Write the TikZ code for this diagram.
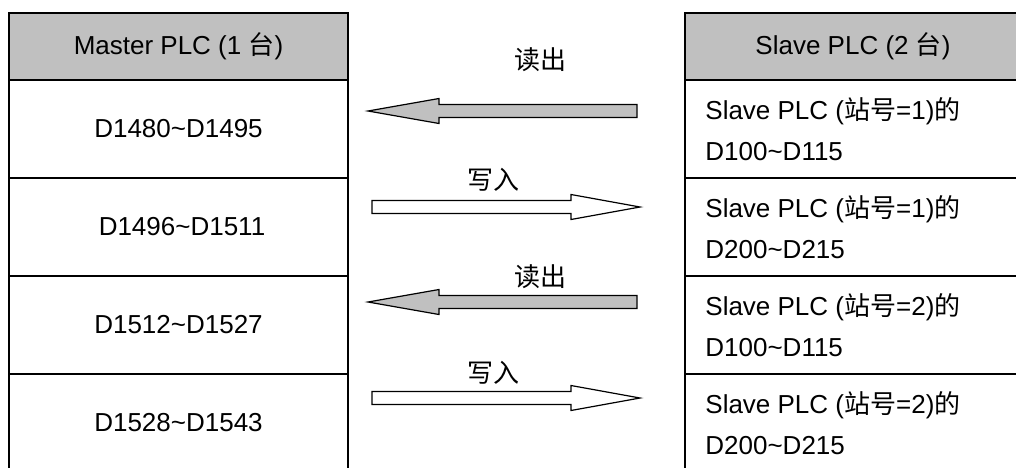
\documentclass[tikz,border=0pt]{standalone}
\usepackage{fontspec}
\setmainfont{Liberation Sans}
\newfontfamily\cjk{Noto Sans CJK SC}
\usetikzlibrary{positioning}
\definecolor{hdgray}{RGB}{192,192,192}
\newcommand\tild{\textasciitilde}

\begin{document}
\begin{tikzpicture}[x=0.5pt, y=-0.5pt, font=\fontsize{13}{15}\selectfont,
   grid/.style={line width=1pt},
   blk/.style={draw, line width=0.6pt, line join=miter},
   cell/.style={inner sep=0pt},
   slv/.style={inner sep=0pt, anchor=base west}]
\clip (0,0) rectangle (1016,467);
% header fills
\fill[hdgray] (9,13) rectangle (348,80);
\fill[hdgray] (685,13) rectangle (1021,80);
% table lines
\foreach \xa/\xb in {9/348, 685/1021} {
  \draw[grid] (\xa,490) -- (\xa,13) -- (\xb,13) -- (\xb,490);
  \foreach \y in {80,178,276,374} \draw[grid] (\xa,\y) -- (\xb,\y);
}
% master side
\node[cell] (mhd) at (178.5,46.5) {Master PLC (1 {\cjk 台})};
\node[cell] (m1) at (178.5,129) {D1480\tild D1495};
\node[cell] (m2) at (182,227) {D1496\tild D1511};
\node[cell] (m3) at (178.5,325) {D1512\tild D1527};
\node[cell] (m4) at (178.5,423) {D1528\tild D1543};
% slave side
\node[cell] (shd) at (853,46.5) {Slave PLC (2 {\cjk 台})};
\foreach \i/\t/\st/\rg in {1/80/1/D100\tild D115, 2/178/1/D200\tild D215,
                           3/276/2/D100\tild D115, 4/374/2/D200\tild D215} {
  \node[slv] (sa\i) at (705,\t+39) {Slave PLC ({\cjk 站号}=\st){\cjk 的}};
  \node[slv] (sb\i) at (705,\t+80) {\rg};
}
% read arrows
\foreach \y in {111,302}
  \draw[blk, fill=hdgray] (637,\y-6.5) -- (439,\y-6.5) -- (439,\y-12.5) -- (368,\y)
     -- (439,\y+12.5) -- (439,\y+6.5) -- (637,\y+6.5) -- cycle;
% write arrows
\foreach \y in {207,398}
  \draw[blk, fill=white] (372,\y-6.5) -- (571,\y-6.5) -- (571,\y-12.5) -- (640,\y)
     -- (571,\y+12.5) -- (571,\y+6.5) -- (372,\y+6.5) -- cycle;
% labels
\node[cell] (rd1) at (540,60) {\cjk 读出};
\node[cell] (rd2) at (540,277) {\cjk 读出};
\node[cell] (wr1) at (493,180) {\cjk 写入};
\node[cell] (wr2) at (493,373) {\cjk 写入};
\end{tikzpicture}
\end{document}
